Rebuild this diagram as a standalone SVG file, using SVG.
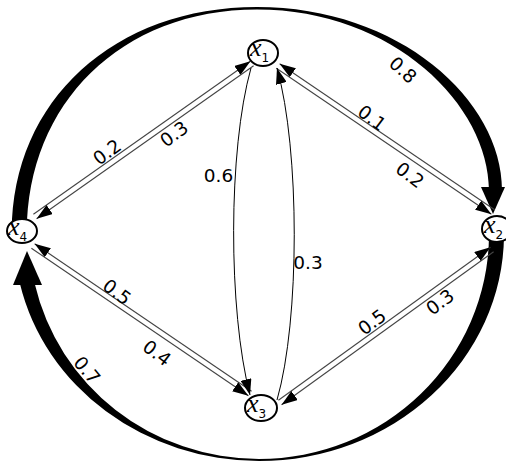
<svg xmlns="http://www.w3.org/2000/svg" width="506" height="468" viewBox="0 0 506 468">
<style>
.lbl{font-family:"DejaVu Sans",sans-serif;font-size:18.5px;fill:#000;text-anchor:middle;dominant-baseline:central}
.edge{stroke:#444;stroke-width:1.1;fill:none;marker-end:url(#ah)}
.curve{stroke:#000;stroke-width:1;fill:none;marker-end:url(#ah)}
.thick{fill:#000;stroke:none}
.node ellipse{fill:#fff;stroke:#000;stroke-width:2}
.nx{font-family:"Liberation Serif",serif;font-style:italic;font-size:26px;fill:#000}
.ns{font-family:"DejaVu Sans",sans-serif;font-style:normal;font-size:12px}
</style>
<defs>
<marker id="ah" markerWidth="16" markerHeight="11" refX="16" refY="5.5" orient="auto" markerUnits="userSpaceOnUse">
<path d="M0,0 L16,5.5 L0,11 Z" fill="#000"/>
</marker>
</defs>
<g id="connectors">
<path class="thick" d="M12,232 C12,100 115,7 257,7 L257,9.5 C121,9.5 27,104 27,232 Z"/>
<path class="thick" d="M257,7 C399,7 502,100 502,190 L489,190 C489,106 394,9.5 257,9.5 Z"/>
<polygon class="thick" points="481,187 505,187 493,214"/>
<path class="thick" d="M504,236 A245,227 0 0 1 259,461 L259,459 A230,225 0 0 0 489,236 Z"/>
<path class="thick" d="M259,461 A245,227 0 0 1 20,284 L34.8,284 A230,225 0 0 0 259,459 Z"/>
<polygon class="thick" points="13,285 42,285 27,251"/>
<line class="edge" x1="33.4" y1="214.2" x2="250.4" y2="61.2"/>
<line class="edge" x1="253.6" y1="65.8" x2="36.6" y2="218.8"/>
<line class="edge" x1="494.6" y1="209.7" x2="279.6" y2="63.7"/>
<line class="edge" x1="276.4" y1="68.3" x2="491.4" y2="214.3"/>
<line class="edge" x1="251.6" y1="391.2" x2="34.6" y2="243.7"/>
<line class="edge" x1="31.4" y1="248.3" x2="248.4" y2="395.8"/>
<line class="edge" x1="278.4" y1="400.2" x2="490.4" y2="247.2"/>
<line class="edge" x1="493.6" y1="251.8" x2="281.6" y2="404.8"/>
<path class="curve" d="M251,68 C228,150 228,310 250,395"/>
<path class="curve" d="M277,400 C300,320 300,150 277,68"/>
</g>
<g id="x1" class="node"><ellipse cx="263" cy="53" rx="15" ry="13"/><text class="nx" x="250" y="56">x<tspan class="ns" dy="6">1</tspan></text></g>
<g id="x2" class="node"><ellipse cx="497" cy="229" rx="15" ry="13"/><text class="nx" x="484" y="233">x<tspan class="ns" dy="6">2</tspan></text></g>
<g id="x3" class="node"><ellipse cx="261" cy="408" rx="16" ry="13"/><text class="nx" x="247" y="412">x<tspan class="ns" dy="6">3</tspan></text></g>
<g id="x4" class="node"><ellipse cx="22" cy="231" rx="15" ry="12"/><text class="nx" x="8" y="235">x<tspan class="ns" dy="6">4</tspan></text></g>
<g id="labels">
<text class="lbl" transform="translate(403,70) rotate(42)">0.8</text>
<text class="lbl" transform="translate(372,118) rotate(37)">0.1</text>
<text class="lbl" transform="translate(410,175) rotate(37)">0.2</text>
<text class="lbl" transform="translate(107,152) rotate(-36)">0.2</text>
<text class="lbl" transform="translate(174,134) rotate(-36)">0.3</text>
<text class="lbl" x="218.5" y="175">0.6</text>
<text class="lbl" x="308" y="262">0.3</text>
<text class="lbl" transform="translate(372,322) rotate(-37)">0.5</text>
<text class="lbl" transform="translate(440,302) rotate(-37)">0.3</text>
<text class="lbl" transform="translate(117,292) rotate(37)">0.5</text>
<text class="lbl" transform="translate(157,353) rotate(37)">0.4</text>
<text class="lbl" transform="translate(87,370) rotate(50)">0.7</text>
</g>
</svg>
